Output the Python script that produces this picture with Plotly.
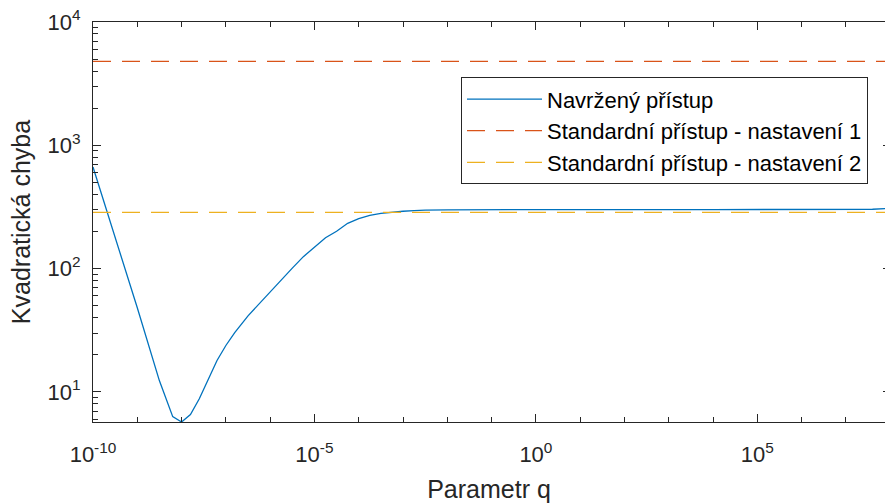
import plotly.graph_objects as go

# ---- data ----
q_exponent = [-10, -9.5, -9.0, -8.5, -8.2, -8.0, -7.8, -7.6, -7.4, -7.2, -7.0, -6.8,
              -6.5, -6.0, -5.5, -5.25, -5.0, -4.75, -4.5, -4.25, -4.0, -3.75, -3.5,
              -3.25, -3.0, -2.75, -2.5, -2.0, -1.0, 0,
              2, 4, 6, 7.2, 7.6, 8]
err_proposed = [667, 179, 48.1, 12.3, 6.3, 5.7, 6.55, 8.8, 12.8, 18.0, 23.8, 30.3,
                41.4, 65.3, 101, 125, 150, 178, 201, 233, 254, 270, 281,
                287, 292, 295, 298.5, 300, 301, 301,
                301, 301, 301, 301, 303, 308]
q_limits = [1e-10, 1e8]
err_standard_1 = [4800, 4800]
err_standard_2 = [286, 286]

series_names = ["Navržený přístup",
                "Standardní přístup - nastavení 1",
                "Standardní přístup - nastavení 2"]

x_major = [-10, -5, 0, 5]
x_minor = list(range(-10, 9))
y_major = [1, 2, 3, 4]

q_values = [10 ** e for e in q_exponent]

FONT = "Liberation Sans, Arial, Helvetica, sans-serif"
AX = "#262626"

fig = go.Figure()
fig.add_trace(go.Scatter(x=q_values, y=err_proposed, mode="lines", name=series_names[0],
                         line=dict(color="#0072BD", width=1.3)))
fig.add_trace(go.Scatter(x=q_limits, y=err_standard_1, mode="lines", name=series_names[1],
                         line=dict(color="#D95319", width=1.3, dash="18px,11px")))
fig.add_trace(go.Scatter(x=q_limits, y=err_standard_2, mode="lines", name=series_names[2],
                         line=dict(color="#EDB120", width=1.3, dash="18px,11px")))
# helper trace so the mirrored (top / right) tick axes are drawn
fig.add_trace(go.Scatter(x=[1e-10], y=[10], xaxis="x2", yaxis="y2", mode="lines",
                         showlegend=False, hoverinfo="skip"))

xrange = [-10, -10 + 792 / 44.29]
yrange = [0.756, 4]

y_minor_vals = [m * 10 ** d for d in range(0, 4) for m in range(2, 10)]

fig.update_layout(
    width=885, height=503,
    margin=dict(l=93, r=0, t=22, b=81, autoexpand=False),
    paper_bgcolor="white", plot_bgcolor="white",
    font=dict(family=FONT, color=AX, size=22),
    showlegend=True,
    legend=dict(x=(461 - 93) / 792, y=(421.7 - 77) / 400, xanchor="left", yanchor="top",
                bgcolor="white", bordercolor=AX, borderwidth=1,
                font=dict(family=FONT, size=22, color="#000000"),
                itemwidth=75, tracegroupgap=0),
    xaxis=dict(type="log", range=xrange, showgrid=False, zeroline=False, automargin=False,
               showline=True, linecolor=AX, linewidth=1, mirror=True,
               ticks="inside", ticklen=8, tickcolor=AX, tickwidth=1,
               tickvals=[10 ** e for e in x_major],
               ticktext=[f"10<sup>{e}</sup>" for e in x_major],
               ticklabelstandoff=13,
               tickfont=dict(size=22, color=AX, family=FONT),
               minor=dict(tickvals=[10 ** e for e in x_minor], ticks="inside",
                          ticklen=5, tickcolor=AX, tickwidth=1),
               title=dict(text="Parametr q", font=dict(size=25, color=AX, family=FONT),
                          standoff=14)),
    yaxis=dict(type="log", range=yrange, showgrid=False, zeroline=False, automargin=False,
               showline=True, linecolor=AX, linewidth=1, mirror=False,
               ticks="inside", ticklen=8, tickcolor=AX, tickwidth=1,
               tickvals=[10 ** e for e in y_major],
               ticktext=[f"10<sup>{e}</sup>" for e in y_major],
               ticklabelstandoff=7,
               tickfont=dict(size=22, color=AX, family=FONT),
               minor=dict(tickvals=y_minor_vals, ticks="inside",
                          ticklen=5, tickcolor=AX, tickwidth=1),
               title=dict(text="Kvadratická chyba", font=dict(size=25, color=AX, family=FONT),
                          standoff=9)),
    xaxis2=dict(type="log", range=xrange, overlaying="x", side="top", anchor="y2",
                automargin=False,
                showgrid=False, zeroline=False, showline=False, showticklabels=False,
                ticks="inside", ticklen=8, tickcolor=AX, tickwidth=1,
                tickvals=[10 ** e for e in x_major],
                minor=dict(tickvals=[10 ** e for e in x_minor], ticks="inside",
                           ticklen=5, tickcolor=AX, tickwidth=1)),
    yaxis2=dict(type="log", range=yrange, overlaying="y", side="right", anchor="x2",
                automargin=False,
                showgrid=False, zeroline=False, showline=False, showticklabels=False,
                ticks="inside", ticklen=2, tickcolor=AX, tickwidth=1,
                tickvals=[10 ** e for e in y_major]),
)

fig.write_html("out.html", config={"displayModeBar": False},
               post_script="document.body.style.margin='0';document.body.style.overflow='hidden';")
